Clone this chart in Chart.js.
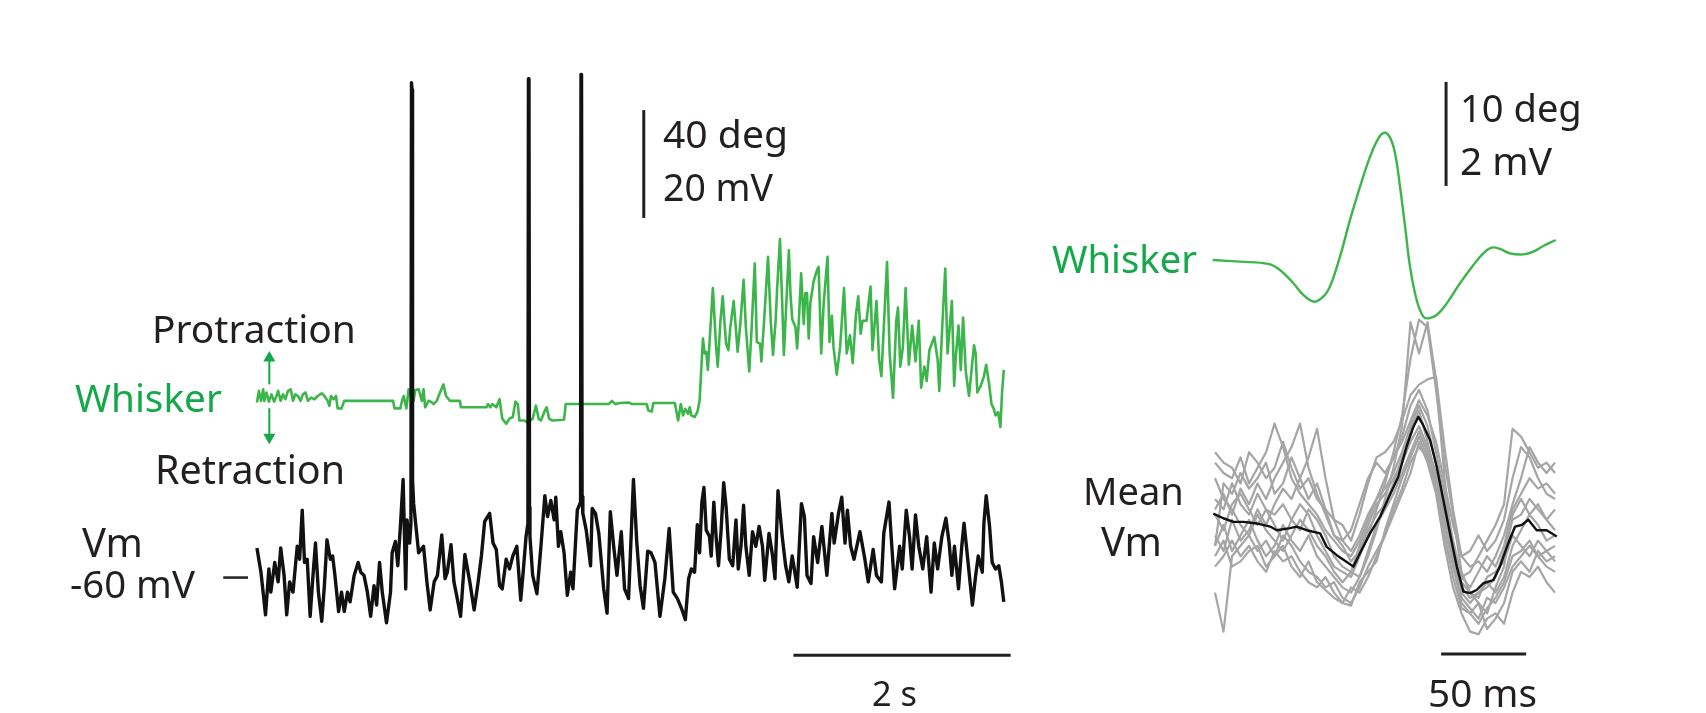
<!DOCTYPE html>
<html>
<head>
<meta charset="utf-8">
<script src="https://cdn.jsdelivr.net/npm/chart.js@4/dist/chart.umd.min.js"></script>
<style>
  html, body { margin: 0; padding: 0; background: #fff; }
  #stage { position: relative; width: 1706px; height: 713px; overflow: hidden; }
  canvas { position: absolute; left: 0; top: 0; }
  .lbl { position: absolute; white-space: nowrap; line-height: 1; font-family: "Noto Sans", sans-serif;
         color: #231f20; transform: translateY(-50%); }
  .green { color: #15a84b; }
</style>
</head>
<body>
<div id="stage">
  <canvas id="leftChart" width="1706" height="713"></canvas>
  <canvas id="rightChart" width="1706" height="713"></canvas>

  <div class="lbl" data-w="204" style="left:152px;top:328px">Protraction</div>
  <div class="lbl green" data-w="147" style="left:75px;top:397px">Whisker</div>
  <div class="lbl" data-w="190" style="left:155px;top:470px">Retraction</div>
  <div class="lbl" data-w="61" style="left:82px;top:542px">Vm</div>
  <div class="lbl" data-w="125" style="left:70px;top:583px">-60 mV</div>
  <div class="lbl" data-w="125" style="left:663px;top:133px">40 deg</div>
  <div class="lbl" data-w="110" style="left:663px;top:187px">20 mV</div>
  <div class="lbl" data-w="45" style="left:872px;top:693px">2 s</div>

  <div class="lbl" data-w="122" style="left:1460px;top:107px">10 deg</div>
  <div class="lbl" data-w="92" style="left:1460px;top:160px">2 mV</div>
  <div class="lbl green" data-w="145" style="left:1052px;top:258px">Whisker</div>
  <div class="lbl" data-w="101" style="left:1083px;top:490px">Mean</div>
  <div class="lbl" data-w="61" style="left:1101px;top:541px">Vm</div>
  <div class="lbl" data-w="109" style="left:1428px;top:692px">50 ms</div>
</div>

<script>
// ---- Left panel: single whisking episode (time in s) ----
const whiskerTime = [
  0.000, 0.018, 0.037, 0.058, 0.067, 0.088, 0.110, 0.134, 0.158, 0.180, 0.195, 0.219, 0.240, 0.262, 0.286, 0.311,
  0.332, 0.353, 0.377, 0.402, 0.423, 0.447, 0.469, 0.499, 0.530, 0.560, 0.597, 0.621, 0.651, 0.667, 0.682, 0.706,
  0.728, 0.743, 0.779, 0.804, 1.254, 1.266, 1.321, 1.336, 1.352, 1.376, 1.397, 1.428, 1.443, 1.458, 1.489, 1.519,
  1.534, 1.549, 1.580, 1.601, 1.626, 1.656, 1.686, 1.717, 1.741, 1.778, 1.869, 1.878, 2.113, 2.128, 2.149, 2.167,
  2.204, 2.234, 2.259, 2.295, 2.326, 2.356, 2.380, 2.402, 2.417, 2.463, 2.493, 2.539, 2.569, 2.594, 2.615, 2.645,
  2.667, 2.691, 2.721, 2.828, 2.843, 3.239, 3.269, 3.300, 3.346, 3.422, 3.452, 3.589, 3.604, 3.635, 3.650, 3.848,
  3.878, 3.903, 3.924, 3.945, 3.970, 3.985, 4.000, 4.030, 4.055, 4.076, 4.091, 4.107, 4.122, 4.137, 4.152, 4.176,
  4.198, 4.213, 4.228, 4.243, 4.268, 4.289, 4.304, 4.320, 4.341, 4.359, 4.390, 4.411, 4.426, 4.451, 4.481, 4.502,
  4.533, 4.554, 4.584, 4.603, 4.633, 4.645, 4.670, 4.706, 4.731, 4.752, 4.776, 4.791, 4.816, 4.837, 4.852, 4.877,
  4.898, 4.913, 4.929, 4.959, 4.974, 4.990, 5.011, 5.035, 5.050, 5.065, 5.081, 5.096, 5.126, 5.157, 5.172, 5.196,
  5.218, 5.254, 5.272, 5.294, 5.309, 5.339, 5.370, 5.406, 5.431, 5.461, 5.486, 5.516, 5.537, 5.559, 5.577, 5.613,
  5.650, 5.668, 5.705, 5.729, 5.750, 5.775, 5.802, 5.826, 5.857, 5.887, 5.903, 5.924, 5.948, 5.973, 6.003, 6.033,
  6.064, 6.094, 6.116, 6.146, 6.167, 6.192, 6.237, 6.268, 6.283, 6.313, 6.338, 6.359, 6.399, 6.420, 6.435, 6.460,
  6.481, 6.502, 6.527, 6.557, 6.588, 6.603, 6.618, 6.633, 6.664, 6.694, 6.715, 6.740, 6.764, 6.785, 6.801, 6.825,
  6.846, 6.861, 6.877
];
const whiskerDeg = [
  -0.5, 3.8, 0.1, 4.4, 0.1, 3.2, -0.2, 2.5, -0.2, 1.9, 3.8, 0.1, 2.5, 0.7, 3.8, 4.4,
  0.1, 2.5, 1.9, 0.1, 2.5, 3.2, 0.1, 1.3, 0.7, 1.9, 2.9, 1.9, 0.1, -1.7, 1.9, 0.7,
  1.9, -2.7, -2.7, 0.1, 0.1, -2.7, -2.7, 0.1, 1.9, -2.7, 4.4, 0.7, 0.1, 4.1, 4.4, 0.1,
  4.4, -2.3, 0.1, -0.2, -1.1, 0.1, 3.2, 6.2, 1.9, 0.1, 0.1, -2.3, -2.3, -1.1, -2.3, -1.1,
  -2.3, 0.7, -6.5, -8.4, -6.5, -5.9, -0.2, -1.1, -7.2, -7.2, -8.0, -6.5, -1.7, -6.5, -7.2, -4.1,
  -2.3, -6.5, -7.2, -6.9, -1.1, -1.1, 0.1, -1.1, -0.7, -0.5, -1.1, -1.1, -3.5, -3.9, -0.7, -0.7,
  -7.2, -1.1, -5.3, -2.9, -4.7, -2.3, -5.3, -5.9, -4.1, 0.1, 11.6, 23.2, 17.7, 18.3, 11.6, 27.4,
  41.9, 31.0, 20.1, 12.8, 29.8, 38.9, 29.8, 21.3, 18.9, 27.4, 37.1, 26.2, 18.3, 28.6, 45.0, 27.4,
  11.0, 26.2, 51.0, 21.9, 21.3, 14.7, 29.8, 53.5, 29.8, 17.1, 29.8, 42.5, 60.1, 35.9, 17.1, 38.3,
  55.9, 39.5, 30.4, 27.4, 19.5, 29.8, 47.4, 28.6, 40.1, 40.1, 23.2, 36.5, 44.4, 48.6, 49.8, 17.7,
  35.9, 53.5, 21.9, 31.6, 20.1, 9.8, 20.1, 41.9, 17.7, 24.4, 14.1, 32.2, 38.9, 25.0, 29.8, 29.8,
  42.5, 18.9, 37.1, 15.3, 9.2, 29.8, 51.6, 17.7, 1.3, 29.8, 34.7, 12.8, 20.1, 41.9, 13.5, 28.0,
  14.7, 29.8, 5.0, 12.8, 7.4, 18.9, 23.8, 15.3, 3.8, 29.8, 49.2, 17.7, 37.1, 5.6, 16.5, 28.0,
  11.6, 31.0, 11.0, 1.9, 14.7, 20.7, 17.7, 3.2, 5.6, 9.2, 13.5, 6.8, -1.1, -2.9, -5.3, -4.1,
  -9.6, 3.2, 11.6
];

const vmTime = [
  0.000, 0.037, 0.079, 0.110, 0.128, 0.164, 0.195, 0.219, 0.250, 0.274, 0.301, 0.332, 0.371, 0.393, 0.417, 0.438,
  0.463, 0.490, 0.514, 0.539, 0.566, 0.597, 0.621, 0.645, 0.676, 0.697, 0.718, 0.752, 0.779, 0.804, 0.834, 0.858,
  0.895, 0.932, 0.956, 0.986, 1.017, 1.047, 1.078, 1.102, 1.129, 1.154, 1.193, 1.230, 1.245, 1.275, 1.297, 1.321,
  1.346, 1.370, 1.382, 1.406, 1.418, 1.423, 1.428, 1.433, 1.443, 1.461, 1.489, 1.534, 1.565, 1.595, 1.632, 1.662,
  1.702, 1.732, 1.753, 1.787, 1.814, 1.839, 1.875, 1.915, 1.960, 2.000, 2.037, 2.067, 2.097, 2.143, 2.174, 2.204,
  2.234, 2.259, 2.295, 2.326, 2.356, 2.393, 2.429, 2.454, 2.478, 2.495, 2.500, 2.505, 2.510, 2.514, 2.539, 2.578,
  2.615, 2.651, 2.676, 2.706, 2.737, 2.752, 2.776, 2.798, 2.828, 2.858, 2.889, 2.910, 2.950, 2.980, 2.984, 2.989,
  2.994, 3.001, 3.032, 3.072, 3.087, 3.117, 3.148, 3.193, 3.224, 3.254, 3.285, 3.315, 3.355, 3.385, 3.422, 3.467,
  3.498, 3.528, 3.559, 3.598, 3.629, 3.665, 3.711, 3.756, 3.796, 3.833, 3.872, 3.909, 3.945, 3.975, 4.000, 4.030,
  4.055, 4.076, 4.097, 4.116, 4.137, 4.167, 4.183, 4.207, 4.228, 4.250, 4.274, 4.298, 4.320, 4.350, 4.381, 4.411,
  4.432, 4.457, 4.481, 4.502, 4.533, 4.563, 4.594, 4.624, 4.655, 4.676, 4.715, 4.746, 4.770, 4.798, 4.837, 4.868,
  4.898, 4.929, 4.975, 5.014, 5.041, 5.065, 5.102, 5.126, 5.163, 5.202, 5.248, 5.294, 5.315, 5.355, 5.385, 5.415,
  5.437, 5.467, 5.498, 5.553, 5.598, 5.629, 5.674, 5.705, 5.750, 5.772, 5.820, 5.842, 5.872, 5.918, 5.942, 5.979,
  6.009, 6.033, 6.064, 6.094, 6.131, 6.167, 6.207, 6.237, 6.268, 6.307, 6.344, 6.374, 6.399, 6.423, 6.460, 6.490,
  6.511, 6.542, 6.588, 6.618, 6.642, 6.679, 6.694, 6.715, 6.746, 6.770, 6.801, 6.831, 6.855, 6.877
];
const vmMillivolts = [
  -54.5, -59.0, -66.9, -58.4, -62.7, -57.2, -60.8, -54.5, -59.6, -66.9, -60.8, -62.7, -54.2, -56.6, -47.5, -57.2,
  -56.6, -67.2, -60.2, -53.6, -62.7, -68.1, -61.5, -53.0, -56.6, -56.0, -59.6, -66.3, -62.7, -66.3, -62.7, -64.5,
  -59.6, -57.2, -59.0, -59.6, -62.7, -67.2, -61.5, -65.1, -57.2, -62.7, -68.4, -62.7, -55.4, -53.3, -57.8, -50.5,
  -41.8, -62.1, -49.3, -53.6, -50.0, 31.8, 30.5, -42.0, -46.3, -49.9, -55.4, -54.2, -60.8, -66.0, -60.8, -59.6,
  -52.1, -60.2, -59.0, -53.9, -60.8, -63.3, -67.2, -55.7, -60.8, -66.0, -60.8, -56.0, -49.6, -48.1, -53.6, -54.8,
  -61.5, -62.1, -56.6, -58.4, -56.0, -54.2, -64.2, -58.4, -52.4, -50.0, 32.5, 31.0, -47.0, -52.4, -59.6, -63.0,
  -54.2, -44.8, -48.7, -45.7, -49.3, -45.1, -54.2, -51.5, -55.4, -63.3, -59.0, -62.1, -47.5, -46.0, 33.3, 32.0,
  -45.0, -48.1, -51.2, -57.8, -47.2, -48.1, -51.8, -62.1, -66.6, -47.8, -54.2, -59.6, -51.5, -62.1, -63.9, -41.8,
  -53.6, -61.5, -65.7, -55.1, -55.4, -57.2, -67.2, -60.2, -50.9, -62.7, -63.9, -65.7, -67.8, -60.2, -58.4, -59.0,
  -50.2, -55.4, -46.0, -43.3, -51.2, -52.4, -56.0, -46.0, -52.4, -57.8, -51.2, -42.4, -46.9, -56.6, -57.8, -49.3,
  -58.4, -54.2, -46.6, -54.2, -59.6, -51.5, -54.2, -50.5, -54.2, -60.5, -51.8, -55.7, -60.2, -43.9, -52.4, -57.8,
  -60.8, -56.0, -61.8, -46.3, -48.7, -59.6, -61.1, -52.4, -57.2, -50.5, -59.6, -48.1, -53.6, -48.1, -45.1, -53.6,
  -47.5, -54.2, -56.6, -51.5, -56.6, -60.8, -54.8, -59.6, -60.8, -51.8, -46.0, -53.0, -62.1, -54.2, -58.4, -47.5,
  -52.4, -58.4, -48.4, -54.2, -58.4, -52.4, -62.7, -53.6, -58.4, -52.4, -49.0, -53.6, -59.6, -54.2, -62.1, -54.2,
  -49.9, -56.0, -65.1, -59.6, -56.0, -59.0, -49.9, -44.8, -50.5, -57.2, -58.4, -57.8, -60.8, -64.5
];

// ---- Right panel: whisk-triggered averages (time in ms) ----
const avgTime = [
  -101.4, -85.3, -68.6, -61.8, -53.9, -48.0, -41.8, -36.3, -32.4, -26.5, -20.6, -14.7, -8.8, -3.9, -0.4, 2.9,
  5.9, 8.8, 11.8, 14.7, 18.6, 22.5, 25.5, 30.4, 36.3, 44.1, 52.0, 57.8, 62.7, 67.6, 73.5, 81.4, 87.3, 93.1, 100.4
];
const avgWhiskerDeg = [
  0.0, -0.16, -0.38, -0.96, -2.24, -3.37, -4.01, -3.53, -2.56, 0.32, 3.85, 7.05, 9.94, 11.70, 12.24, 11.79,
  10.26, 7.05, 3.21, -0.64, -3.85, -5.45, -5.61, -5.29, -4.17, -2.24, -0.48, 0.64, 1.19, 1.06, 0.64, 0.54, 0.80, 1.35, 1.92
];

const meanTime = [
  -101.0, -95.1, -89.2, -83.3, -75.5, -67.6, -63.7, -55.9, -52.0, -46.1, -38.2, -34.3, -28.4, -22.5, -18.6, -14.7,
  -8.8, -2.9, 2.9, 7.8, 12.7, 16.7, 19.6, 22.5, 26.5, 30.4, 34.3, 38.2, 42.2, 46.1, 50.0, 53.9, 57.8, 63.7, 67.6,
  72.5, 76.5, 80.4, 84.3, 89.2, 95.1, 101.0
];
const meanVm = [
  0.22, 0.13, 0.06, 0.06, 0.03, -0.03, -0.10, -0.06, -0.03, -0.10, -0.16, -0.42, -0.58, -0.71, -0.80, -0.54,
  -0.16, 0.16, 0.58, 0.93, 1.51, 1.89, 2.08, 1.92, 1.63, 1.12, 0.48, -0.16, -0.80, -1.28, -1.31, -1.25, -1.12, -1.06, -0.80,
  -0.35, -0.03, 0.00, 0.10, -0.10, -0.10, -0.22
];

const trialTime = [
  -100, -95, -90, -85, -80, -75, -70, -65, -60, -55, -50, -45, -40, -35, -30, -25, -20, -15, -10, -5, 0,
  5, 10, 15, 20, 25, 30, 35, 40, 45, 50, 55, 60, 65, 70, 75, 80, 85, 90, 95, 100
];
const trial1 = [1.2, 1.0, 0.9, 1.3, 0.8, 1.1, 1.4, 1.95, 1.5, 0.9, 0.6, 0.4, 0.2, -0.1, -0.3, -0.5, -0.6, -0.3, 0.1, 0.5, 0.9, 1.3, 1.7, 2.3, 2.6, 2.2, 1.4, 0.6, -0.3, -1.0, -1.2, -0.9, -0.6, -0.8, -0.4, 0.3, 0.6, 0.9, 0.7, 0.8, 0.6];
const trial2 = [-1.3, -2.05, -0.6, -0.4, -0.2, -0.5, -0.3, -0.6, -0.2, -0.4, -0.7, -0.9, -1.0, -1.2, -1.1, -1.4, -1.5, -1.2, -0.8, -0.5, -0.2, 0.3, 0.7, 1.2, 1.5, 1.3, 0.9, 0.1, -0.8, -1.5, -1.7, -1.9, -1.6, -1.4, -1.1, -0.6, -0.5, -0.3, -0.6, -0.5, -0.7];
const trial3 = [0.5, 0.3, 0.8, 0.4, 0.2, 0.6, 0.3, 0.0, -0.3, 0.1, 0.4, 0.2, -0.2, -0.5, -0.8, -0.9, -1.0, -0.6, -0.2, 0.3, 0.8, 1.4, 2.1, 3.2, 3.95, 3.8, 2.6, 1.2, 0.2, -0.9, -1.3, -1.5, -1.7, -1.2, -0.8, 0.2, 0.5, 0.2, 0.4, 0.1, 0.3];
const trial4 = [-0.4, 0.0, -0.5, -0.2, 0.1, -0.3, -0.6, -0.4, 0.0, -0.3, -0.5, -0.2, -0.6, -0.8, -1.0, -1.2, -1.3, -1.0, -0.6, -0.1, 0.5, 1.1, 1.9, 3.9, 3.3, 3.9, 2.8, 0.9, -0.6, -1.4, -1.6, -1.8, -1.4, -1.5, -1.2, -0.8, -0.6, -0.4, -0.6, -0.8, -0.9];
const trial5 = [0.3, 0.6, 0.2, 0.7, 0.4, 0.8, 0.5, 0.9, 1.2, 1.5, 1.95, 1.1, 0.6, 0.2, -0.2, -0.4, -0.7, -0.5, -0.1, 0.2, 0.4, 0.8, 1.3, 1.8, 2.2, 1.6, 0.9, 0.0, -0.6, -1.2, -1.4, -1.3, -1.2, -1.0, -0.5, 0.1, 0.2, 0.5, 0.3, 0.1, -0.1];
const trial6 = [-0.2, -0.5, 0.1, -0.3, -0.1, 0.3, 0.0, 0.4, 0.7, 0.5, 0.9, 1.3, 1.85, 0.9, 0.1, -0.3, -0.5, -0.2, 0.2, 0.5, 0.7, 1.0, 1.4, 1.9, 2.3, 1.9, 1.2, 0.4, -0.5, -1.1, -1.3, -1.4, -1.0, -0.9, -0.7, -0.2, -0.4, -0.6, -0.3, -0.5, -0.4];
const trial7 = [0.9, 0.5, 0.3, 0.0, -0.2, 0.2, -0.1, -0.3, -0.5, -0.2, 0.1, -0.1, -0.4, -0.6, -0.9, -1.1, -0.9, -0.4, 0.0, 0.4, 0.6, 0.9, 1.2, 1.6, 1.9, 1.5, 1.0, 0.2, -0.5, -1.0, -0.9, -0.6, -0.3, 0.0, 0.4, 1.85, 1.7, 1.4, 1.1, 1.2, 1.0];
const trial8 = [-0.8, -0.6, -0.3, -0.6, -0.4, -0.7, -0.9, -0.5, -0.7, -0.6, -0.9, -1.1, -1.2, -1.0, -1.3, -1.5, -1.2, -1.3, -1.0, -0.6, -0.2, 0.2, 0.6, 1.0, 1.6, 1.2, 0.6, -0.4, -1.2, -1.7, -2.05, -2.1, -1.8, -1.7, -1.9, -1.3, -0.9, -1.0, -0.8, -1.1, -1.3];
const trial9 = [1.4, 1.2, 1.1, 0.8, 1.4, 1.2, 0.9, 1.1, 1.6, 1.1, 0.7, 0.9, 0.5, 0.3, 0.1, 0.0, -0.3, 0.2, 0.8, 1.3, 1.4, 1.6, 2.0, 2.5, 2.7, 2.8, 2.85, 1.5, 0.3, -0.6, -0.8, -0.7, -0.9, -0.6, -0.2, 0.4, 0.9, 1.5, 1.2, 1.0, 1.2];
const trial10 = [-0.6, -0.3, -0.8, -0.7, -0.5, -0.4, -0.8, -0.6, -0.4, -0.8, -1.0, -0.7, -1.1, -1.25, -1.4, -1.5, -1.55, -1.1, -0.9, -0.7, -0.1, 0.4, 0.9, 1.3, 1.7, 1.3, 0.7, -0.2, -1.0, -1.6, -1.7, -1.5, -2.0, -1.8, -1.5, -0.9, -0.7, -0.9, -0.5, -0.7, -0.6];
const trial11 = [0.2, -0.1, 0.4, 0.6, 0.3, 0.0, 0.3, 0.2, 0.4, 0.1, -0.1, 0.3, 0.1, -0.2, -0.6, -0.8, -0.9, -1.0, -0.5, 0.0, 0.3, 0.6, 1.0, 1.4, 1.8, 1.4, 0.8, 0.0, -0.8, -1.3, -1.5, -1.3, -1.1, -1.3, -1.0, -0.4, -0.1, 0.2, 0.0, -0.3, -0.2];
const trial12 = [-0.4, 0.8, 0.6, 1.0, 0.7, 0.9, 1.2, 0.6, 0.8, 1.3, 0.9, 0.5, 0.8, 0.3, -0.2, -0.3, -0.1, 0.4, 0.9, 1.2, 1.0, 1.3, 1.6, 2.0, 2.4, 2.1, 1.6, 0.8, 0.0, -0.6, -0.5, -0.2, -0.5, -0.3, 0.1, 0.9, 1.5, 1.3, 0.9, 0.6, 0.5];
const trials = [trial1, trial2, trial3, trial4, trial5, trial6, trial7, trial8, trial9, trial10, trial11, trial12];

// Scale bars and markers, in data units
const leftVBar = { t: 3.562, mv: [6.7, 26.7] };      // 20 mV / 40 deg
const leftTBar = { t: [4.94, 6.94], mv: -74.4 };     // 2 s
const restMark = { t: [-0.31, -0.082], mv: -60 };    // -60 mV tick
const arrowUp = { t: 0.114, deg: [6.2, 16.0] };
const arrowDown = { t: 0.114, deg: [-2.9, -13.4] };
const rightVBar = { t: 35.9, mv: [6.52, 8.52] };     // 2 mV / 10 deg
const rightTBar = { t: [33, 83], mv: -2.48 };        // 50 ms

const GREEN = '#3cb54a';
const GREEN_DARK = '#15a84b';
const INK = '#231f20';
const GRAY = '#a5a5a5';

function pairs(xs, ys) {
    return xs.map((x, i) => ({ x: x, y: ys[i] }));
}

function line(data, color, width, extra) {
    return Object.assign({
        data: data,
        borderColor: color,
        backgroundColor: color,
        borderWidth: width,
        pointRadius: 0,
        fill: false,
        tension: 0,
        borderJoinStyle: 'round'
    }, extra || {});
}

function baseOptions(scales) {
    return {
        responsive: false,
        animation: false,
        events: [],
        layout: { padding: 0 },
        plugins: { legend: { display: false }, tooltip: { enabled: false } },
        scales: scales
    };
}

// Left chart: x in s, y in mV, yW in deg (20 mV and 40 deg share 110 px)
const leftScales = {
    x: { type: 'linear', min: -2.3014, max: 13.2785, display: false },
    y: { type: 'linear', min: -83.82, max: 45.82, display: false },
    yW: { type: 'linear', min: -113.09, max: 146.18, display: false }
};

new Chart(document.getElementById('leftChart'), {
    type: 'line',
    data: {
        datasets: [
            line(pairs(vmTime, vmMillivolts), '#111', 3.4, { yAxisID: 'y' }),
            line(pairs(whiskerTime, whiskerDeg), GREEN, 2.6, { yAxisID: 'yW' }),
            line([{ x: arrowUp.t, y: arrowUp.deg[0] }, { x: arrowUp.t, y: arrowUp.deg[1] }], GREEN_DARK, 2,
                { yAxisID: 'yW', pointRadius: [0, 7], pointStyle: 'triangle', pointRotation: 0, pointBorderWidth: 0 }),
            line([{ x: arrowDown.t, y: arrowDown.deg[0] }, { x: arrowDown.t, y: arrowDown.deg[1] }], GREEN_DARK, 2,
                { yAxisID: 'yW', pointRadius: [0, 7], pointStyle: 'triangle', pointRotation: 180, pointBorderWidth: 0 }),
            line([{ x: restMark.t[0], y: restMark.mv }, { x: restMark.t[1], y: restMark.mv }], INK, 2.5, { yAxisID: 'y' }),
            line([{ x: leftVBar.t, y: leftVBar.mv[0] }, { x: leftVBar.t, y: leftVBar.mv[1] }], INK, 3, { yAxisID: 'y' }),
            line([{ x: leftTBar.t[0], y: leftTBar.mv }, { x: leftTBar.t[1], y: leftTBar.mv }], INK, 3, { yAxisID: 'y' })
        ]
    },
    options: baseOptions(leftScales)
});

// Right chart: x in ms, y in mV, yW in deg (2 mV and 10 deg share 104 px)
const rightScales = {
    x: { type: 'linear', min: -814.7, max: 188.8, display: false },
    y: { type: 'linear', min: -3.615, max: 10.096, display: false },
    yW: { type: 'linear', min: -43.56, max: 25.0, display: false }
};

const rightSets = [
    line(pairs(meanTime, meanVm), '#111', 2.4, { yAxisID: 'y' }),
    line(pairs(avgTime, avgWhiskerDeg), GREEN, 2.4, { yAxisID: 'yW', tension: 0.4 }),
    line([{ x: rightVBar.t, y: rightVBar.mv[0] }, { x: rightVBar.t, y: rightVBar.mv[1] }], INK, 3, { yAxisID: 'y' }),
    line([{ x: rightTBar.t[0], y: rightTBar.mv }, { x: rightTBar.t[1], y: rightTBar.mv }], INK, 3, { yAxisID: 'y' })
];
trials.forEach(trial => {
    rightSets.push(line(pairs(trialTime, trial), GRAY, 2.2, { yAxisID: 'y' }));
});

new Chart(document.getElementById('rightChart'), {
    type: 'line',
    data: { datasets: rightSets },
    options: baseOptions(rightScales)
});

// Size each label so its width matches the figure
const measure = document.createElement('canvas').getContext('2d');
document.querySelectorAll('.lbl').forEach(el => {
    const target = parseFloat(el.dataset.w);
    measure.font = '40px "Noto Sans"';
    const w = measure.measureText(el.textContent).width;
    el.style.fontSize = (40 * target / w).toFixed(1) + 'px';
});
</script>
</body>
</html>
